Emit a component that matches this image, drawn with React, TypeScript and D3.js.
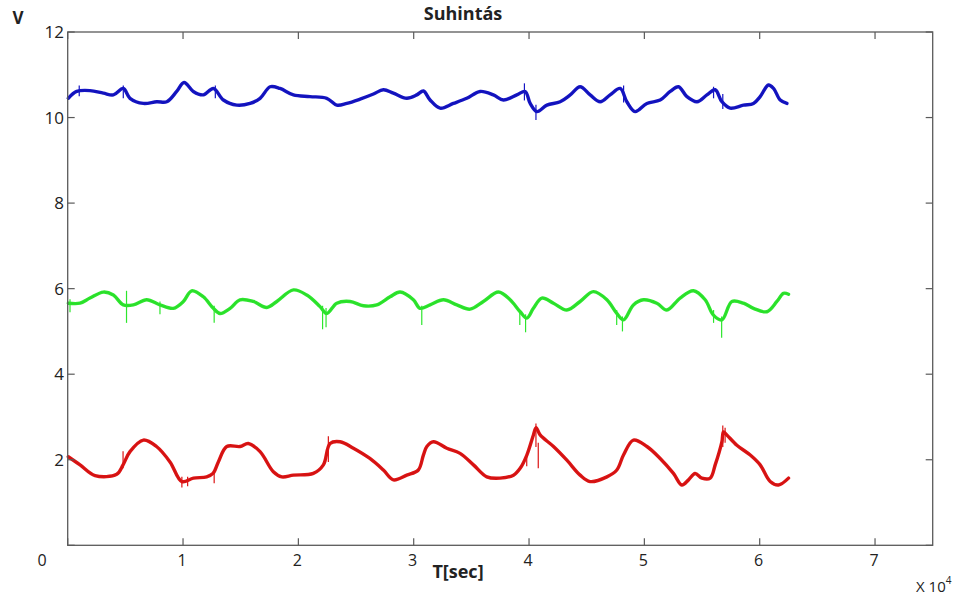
import React from "react";
import * as d3 from "d3";

// ---- data (t in units of 10^4 s, value in V) ----
const redPoints: [number, number][] = [
  [0.005, 2.07], [0.107, 1.88], [0.237, 1.63], [0.425, 1.66], [0.48, 1.88], [0.54, 2.19],
  [0.656, 2.46], [0.77, 2.31], [0.887, 1.95], [0.99, 1.49], [1.09, 1.57], [1.205, 1.6],
  [1.26, 1.68], [1.306, 1.95], [1.379, 2.31], [1.494, 2.31], [1.566, 2.38], [1.668, 2.19],
  [1.783, 1.72], [1.856, 1.6], [1.957, 1.64], [2.13, 1.68], [2.217, 1.88], [2.275, 2.38],
  [2.362, 2.42], [2.477, 2.27], [2.62, 2.03], [2.737, 1.76], [2.824, 1.53], [2.94, 1.64],
  [3.04, 1.76], [3.084, 2.11], [3.114, 2.31], [3.171, 2.42], [3.287, 2.27], [3.402, 2.15],
  [3.518, 1.88], [3.634, 1.6], [3.749, 1.57], [3.865, 1.64], [3.923, 1.8], [3.981, 2.11],
  [4.038, 2.58], [4.061, 2.75], [4.096, 2.58], [4.212, 2.31], [4.328, 1.99], [4.443, 1.64],
  [4.53, 1.49], [4.675, 1.6], [4.761, 1.76], [4.819, 2.11], [4.905, 2.46], [5.022, 2.31],
  [5.137, 2.03], [5.252, 1.68], [5.325, 1.41], [5.383, 1.53], [5.44, 1.68], [5.499, 1.57],
  [5.571, 1.57], [5.614, 1.88], [5.672, 2.42], [5.686, 2.65], [5.715, 2.58], [5.802, 2.34],
  [5.918, 2.11], [6.004, 1.88], [6.091, 1.49], [6.163, 1.41], [6.25, 1.57],
];

const greenPoints: [number, number][] = [
  [0.005, 5.66], [0.107, 5.66], [0.193, 5.78], [0.309, 5.92], [0.396, 5.85], [0.482, 5.62],
  [0.569, 5.62], [0.685, 5.74], [0.8, 5.62], [0.916, 5.54], [1.003, 5.7], [1.075, 5.95],
  [1.176, 5.81], [1.263, 5.54], [1.321, 5.42], [1.408, 5.54], [1.494, 5.74], [1.61, 5.7],
  [1.726, 5.56], [1.813, 5.7], [1.957, 5.97], [2.073, 5.85], [2.188, 5.58], [2.246, 5.42],
  [2.333, 5.66], [2.448, 5.7], [2.564, 5.6], [2.68, 5.62], [2.795, 5.81], [2.882, 5.92],
  [2.997, 5.74], [3.055, 5.54], [3.142, 5.62], [3.258, 5.74], [3.374, 5.62], [3.489, 5.52],
  [3.604, 5.7], [3.735, 5.92], [3.836, 5.74], [3.923, 5.46], [3.981, 5.31], [4.038, 5.54],
  [4.111, 5.78], [4.212, 5.66], [4.328, 5.5], [4.443, 5.7], [4.558, 5.93], [4.675, 5.74],
  [4.761, 5.42], [4.819, 5.27], [4.905, 5.62], [4.992, 5.74], [5.108, 5.66], [5.195, 5.5],
  [5.31, 5.78], [5.426, 5.95], [5.527, 5.74], [5.599, 5.38], [5.672, 5.27], [5.759, 5.7],
  [5.859, 5.66], [5.946, 5.54], [6.062, 5.46], [6.149, 5.7], [6.206, 5.89], [6.25, 5.87],
];

const bluePoints: [number, number][] = [
  [0.005, 10.45], [0.078, 10.61], [0.193, 10.63], [0.309, 10.57], [0.396, 10.53], [0.482, 10.68],
  [0.54, 10.45], [0.656, 10.33], [0.772, 10.37], [0.859, 10.37], [0.945, 10.61], [1.009, 10.82],
  [1.089, 10.61], [1.176, 10.53], [1.263, 10.68], [1.35, 10.41], [1.466, 10.29], [1.581, 10.33],
  [1.668, 10.45], [1.755, 10.72], [1.841, 10.68], [1.957, 10.53], [2.101, 10.49], [2.246, 10.45],
  [2.333, 10.29], [2.42, 10.33], [2.535, 10.43], [2.651, 10.55], [2.737, 10.65], [2.824, 10.57],
  [2.94, 10.45], [3.027, 10.53], [3.084, 10.62], [3.142, 10.41], [3.229, 10.22], [3.344, 10.33],
  [3.46, 10.45], [3.576, 10.61], [3.691, 10.53], [3.778, 10.41], [3.894, 10.53], [3.966, 10.61],
  [4.01, 10.33], [4.068, 10.14], [4.155, 10.29], [4.27, 10.37], [4.357, 10.53], [4.443, 10.72],
  [4.53, 10.53], [4.617, 10.37], [4.703, 10.53], [4.79, 10.68], [4.848, 10.37], [4.92, 10.14],
  [5.022, 10.33], [5.137, 10.41], [5.224, 10.61], [5.296, 10.72], [5.369, 10.49], [5.456, 10.37],
  [5.542, 10.53], [5.614, 10.65], [5.672, 10.37], [5.744, 10.22], [5.859, 10.29], [5.946, 10.33],
  [6.004, 10.49], [6.076, 10.76], [6.12, 10.68], [6.178, 10.41], [6.236, 10.33],
];

// spikes: [t, low, high]
const redSpikes: [number, number, number][] = [
  [0.48, 1.8, 2.2], [0.99, 1.35, 1.6], [1.04, 1.38, 1.6], [1.27, 1.45, 1.75],
  [2.26, 1.95, 2.55], [3.98, 1.85, 2.15], [4.06, 2.3, 2.85], [4.08, 1.8, 2.4],
  [5.68, 2.3, 2.8], [5.70, 2.4, 2.75],
];
const greenSpikes: [number, number, number][] = [
  [0.02, 5.45, 5.75], [0.51, 5.2, 5.95], [0.8, 5.4, 5.7], [1.27, 5.2, 5.6],
  [2.21, 5.05, 5.6], [2.24, 5.1, 5.55], [3.07, 5.15, 5.6], [3.92, 5.15, 5.5],
  [3.97, 4.98, 5.4], [4.76, 5.15, 5.5], [4.81, 5.0, 5.35], [5.6, 5.2, 5.5], [5.67, 4.85, 5.35],
];
const blueSpikes: [number, number, number][] = [
  [0.1, 10.5, 10.75], [0.482, 10.45, 10.75], [1.28, 10.45, 10.75], [3.96, 10.4, 10.8],
  [4.06, 9.94, 10.3], [4.82, 10.35, 10.75], [5.6, 10.45, 10.72], [5.68, 10.2, 10.55],
];

const xTicks = [0, 1, 2, 3, 4, 5, 6, 7];
const yTicks = [0, 2, 4, 6, 8, 10, 12];
const titleText = "Suhintás";
const xLabel = "T[sec]";
const yLabel = "V";

const W = 967;
const H = 595;
const left = 67.7;
const right = 932.7;
const top = 32;
const bottom = 545.3;

export default function App() {
  const x = d3.scaleLinear().domain([0, 7.5]).range([left, right]);
  const y = d3.scaleLinear().domain([0, 12]).range([bottom, top]);
  const line = d3
    .line<[number, number]>()
    .x((d) => x(d[0]))
    .y((d) => y(d[1]))
    .curve(d3.curveCatmullRom.alpha(0.5));

  const series = [
    { pts: bluePoints, spikes: blueSpikes, color: "#1515c4", dark: "#0a0a80" },
    { pts: greenPoints, spikes: greenSpikes, color: "#2de62d", dark: "#20b020" },
    { pts: redPoints, spikes: redSpikes, color: "#dc1414", dark: "#a01010" },
  ];
  const font = "'Open Sans', 'Liberation Sans', sans-serif";
  const axisColor = "#5a5a5a";
  const tl = 7;

  return (
    <svg
      width={W}
      height={H}
      style={{ position: "absolute", left: 0, top: 0, background: "#fff" }}
      fontFamily={font}
    >
      <rect x={0} y={0} width={W} height={H} fill="#fff" />
      {series.map((s, i) => (
        <g key={i}>
          <path
            d={line(s.pts) || ""}
            fill="none"
            stroke={s.color}
            strokeWidth={3.4}
            strokeLinejoin="round"
            strokeLinecap="round"
          />
          <path
            d={line(s.pts) || ""}
            fill="none"
            stroke={s.dark}
            strokeOpacity={0.3}
            strokeWidth={0.8}
            strokeLinejoin="round"
          />
          {s.spikes.map((sp, j) => (
            <line
              key={j}
              x1={x(sp[0])}
              x2={x(sp[0])}
              y1={y(sp[1])}
              y2={y(sp[2])}
              stroke={s.color}
              strokeWidth={1.2}
            />
          ))}
        </g>
      ))}
      {/* axes box */}
      <rect
        x={left}
        y={top}
        width={right - left}
        height={bottom - top}
        fill="none"
        stroke={axisColor}
        strokeWidth={1.3}
      />
      {xTicks.map((t) => (
        <g key={"xt" + t}>
          <line x1={x(t)} x2={x(t)} y1={bottom} y2={bottom - tl} stroke={axisColor} strokeWidth={1.2} />
          <line x1={x(t)} x2={x(t)} y1={top} y2={top + tl} stroke={axisColor} strokeWidth={1.2} />
          {t > 0 && (
            <text x={x(t) - 1} y={566} fontSize={16} textAnchor="middle" fill="#222">
              {t}
            </text>
          )}
        </g>
      ))}
      {yTicks.map((v) => (
        <g key={"yt" + v}>
          <line x1={left} x2={left + tl} y1={y(v)} y2={y(v)} stroke={axisColor} strokeWidth={1.2} />
          <line x1={right} x2={right - tl} y1={y(v)} y2={y(v)} stroke={axisColor} strokeWidth={1.2} />
          {v > 0 && (
            <text x={64} y={y(v) + 6} fontSize={17} textAnchor="end" fill="#222">
              {v}
            </text>
          )}
        </g>
      ))}
      <text x={42} y={566} fontSize={16} textAnchor="middle" fill="#222">
        0
      </text>
      <text x={463} y={20} fontSize={18} fontWeight="bold" textAnchor="middle" fill="#222">
        {titleText}
      </text>
      <text x={458} y={578} fontSize={18} fontWeight="bold" textAnchor="middle" fill="#222">
        {xLabel}
      </text>
      <text x={18} y={24} fontSize={17} fontWeight="bold" textAnchor="middle" fill="#222">
        {yLabel}
      </text>
      <text x={916} y={592} fontSize={15} fill="#222">
        X 10
        <tspan dy={-8} fontSize={10}>
          4
        </tspan>
      </text>
    </svg>
  );
}
